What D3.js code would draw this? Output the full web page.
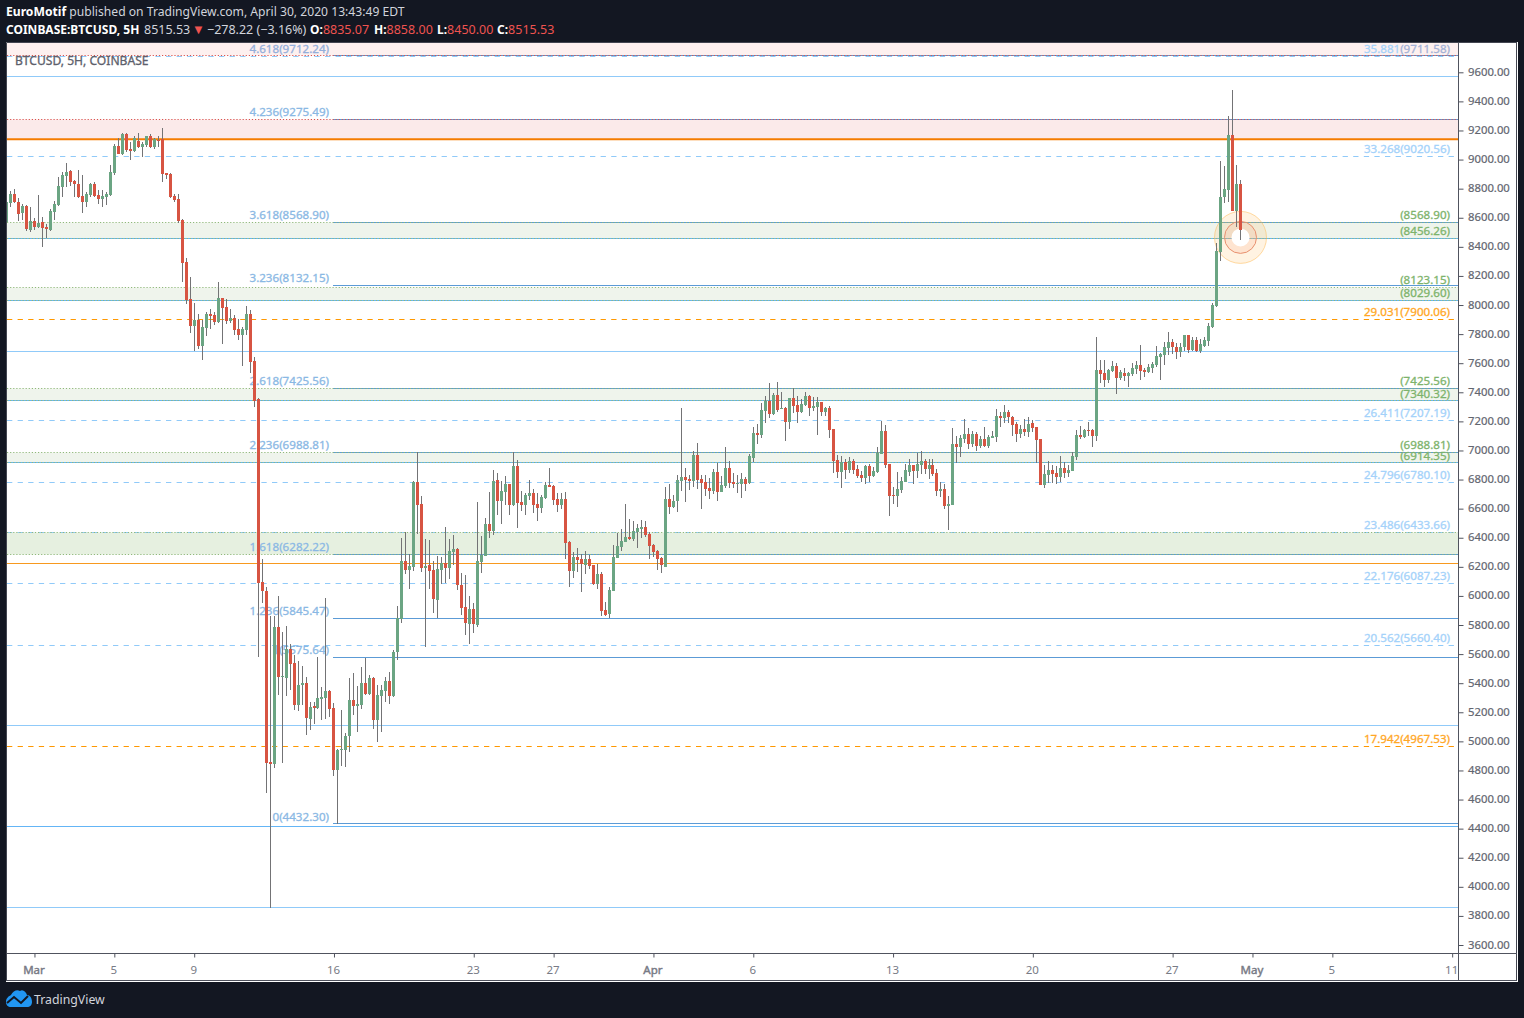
<!DOCTYPE html>
<html><head><meta charset="utf-8">
<script src="https://cdnjs.cloudflare.com/ajax/libs/d3/7.8.5/d3.min.js"></script>
<style>
html,body{margin:0;padding:0;background:#131722;overflow:hidden}
svg{display:block}
text{font-family:"Noto Sans",sans-serif}
</style></head><body>
<svg id="c" width="1524" height="1018"></svg>
<script>
// ---------- values ----------
const opens=[8569,8700,8762,8706,8631,8679,8514,8576,8535,8569,
8535,8514,8638,8686,8810,8885,8920,8851,8830,8748,
8706,8755,8830,8755,8727,8741,8755,8906,9091,9036,
9174,9071,9057,9126,9085,9098,9160,9085,9133,9140,
8906,8899,8748,8727,8583,8294,8040,7854,7896,7717,
7841,7937,7930,7882,8047,7985,7889,7909,7834,7793,
7827,7937,7614,7353,6095,6033,4858,4844,5786,5442,
5435,5634,5538,5250,5387,5401,5153,5243,5229,5291,
5298,5346,5229,4803,4940,4940,5036,5284,5243,5250,
5401,5325,5435,5146,5311,5346,5414,5311,5614,5840,
6239,6177,6198,6782,6631,6191,6212,6177,5971,6177,
6225,6191,6301,6322,6074,5923,5806,5909,5799,6232,
6274,6493,6445,6796,6652,6713,6768,6624,6892,6645,
6624,6686,6707,6631,6604,6672,6762,6755,6665,6624,
6665,6370,6170,6267,6253,6212,6253,6212,6081,6150,
5902,5875,6033,6260,6335,6370,6404,6390,6438,6459,
6473,6425,6349,6308,6260,6198,6665,6610,6652,6789,
6817,6803,6789,6968,6803,6782,6741,6720,6851,6713,
6755,6878,6782,6768,6768,6803,6775,6947,7119,7105,
7270,7339,7250,7380,7284,7291,7195,7359,7311,7263,
7311,7373,7291,7298,7332,7263,7291,7147,6933,6851,
6920,6865,6926,6871,6830,6810,6892,6823,6851,6975,
7133,6906,6693,6686,6727,6782,6851,6899,6858,6899,
6926,6871,6899,6844,6720,6734,6617,6624,7043,7023,
7078,7112,7043,7112,7030,7078,7030,7085,7092,7236,
7222,7263,7229,7181,7112,7147,7126,7188,7160,7078,
6762,6830,6865,6844,6817,6878,6844,6858,6954,7105,
7092,7140,7140,7098,7552,7531,7483,7545,7579,7497,
7531,7511,7524,7559,7586,7552,7538,7566,7586,7641,
7655,7703,7744,7710,7676,7710,7793,7690,7758,7683,
7717,7751,7847,7992,8363,8741,8789,9167,8645,8835.07];
const highs=[8755,8782,8796,8734,8693,8690,8672,8597,8755,8604,
8555,8658,8713,8878,8913,8975,8925,8858,8927,8892,
8775,8837,8844,8789,8789,8775,8961,9105,9146,9180,
9180,9119,9160,9181,9119,9160,9174,9146,9160,9215,
8910,8905,8762,8762,8590,8322,8191,8012,7937,7896,
7950,7971,7950,8157,8050,8040,7971,7930,7902,7847,
7992,7964,7641,7359,6253,6060,5861,5861,5999,5751,
5792,5669,5593,5552,5518,5442,5270,5270,5579,5373,
5985,5353,5263,4945,5215,5057,5435,5470,5380,5511,
5573,5456,5442,5387,5387,5442,5476,5627,5930,6397,
6438,6287,6789,6988,6686,6390,6383,6239,6273,6267,
6473,6390,6418,6328,6157,6143,5999,5950,6645,6411,
6535,6713,6865,6844,6789,6823,6772,6988,6933,6720,
6707,6796,6734,6707,6693,6782,6878,6762,6707,6707,
6713,6375,6301,6328,6287,6308,6280,6215,6219,6164,
5957,6060,6349,6431,6459,6631,6528,6514,6493,6521,
6514,6438,6356,6315,6267,6748,6768,6693,6830,7291,
6878,6830,6995,7050,6830,6830,6810,6871,6913,6823,
7023,6926,6844,6830,6844,6816,6975,7160,7181,7325,
7373,7463,7394,7470,7401,7298,7362,7428,7373,7353,
7401,7380,7366,7366,7336,7298,7305,7150,6968,6961,
6940,6954,6940,6899,6858,6899,6906,6885,7023,7201,
7174,6910,6748,6851,6816,6906,6940,6903,6982,6995,
6940,6940,6940,6871,6782,6768,6686,7153,7098,7105,
7215,7153,7133,7126,7098,7160,7105,7133,7284,7263,
7311,7277,7236,7195,7174,7215,7229,7208,7163,7082,
6899,6926,6899,6892,6961,6920,6899,6988,7140,7167,
7147,7195,7147,7779,7621,7621,7559,7614,7600,7552,
7566,7538,7600,7614,7724,7566,7593,7607,7717,7669,
7744,7813,7765,7738,7738,7795,7797,7779,7779,7765,
7779,7875,8012,8425,8988,8954,9298,9476,8961,8858];
const lows=[8555,8672,8699,8576,8583,8507,8500,8514,8528,8397,
8459,8507,8583,8680,8741,8810,8817,8741,8734,8631,
8672,8741,8741,8693,8672,8686,8750,8892,9036,9030,
9050,8995,9050,9078,9016,9085,9078,9071,9085,8844,
8865,8734,8706,8562,8157,8009,7806,7682,7696,7621,
7786,7834,7861,7875,7731,7868,7875,7793,7758,7579,
7793,7531,7298,5579,5950,4645,3854,4816,5318,4851,
5311,5353,5215,5208,5250,5043,5077,5119,5222,5146,
5153,5167,4762,4432,4830,4823,4927,5181,5064,5222,
5318,5318,5085,4995,5064,5270,5257,5305,5559,5813,
6150,6047,6170,6425,6164,5648,6047,5882,5847,6081,
6088,6115,6212,6040,5868,5731,5669,5744,5786,6157,
6274,6397,6418,6555,6493,6624,6555,6617,6466,6583,
6555,6658,6569,6514,6569,6665,6748,6624,6576,6597,
6253,6060,6122,6164,6026,6150,6184,6078,6047,5861,
5861,5847,6033,6260,6308,6370,6383,6377,6329,6397,
6404,6253,6267,6177,6157,6198,6562,6604,6576,6720,
6645,6727,6748,6734,6597,6686,6665,6700,6652,6713,
6741,6741,6741,6707,6672,6720,6768,6920,7043,7085,
7188,7222,7243,7263,7284,7064,7147,7256,7188,7256,
7305,7236,7270,7105,7236,7236,7085,6844,6810,6741,
6803,6844,6837,6810,6782,6768,6782,6816,6844,6975,
6878,6549,6631,6610,6707,6782,6823,6768,6810,6837,
6837,6803,6823,6686,6679,6597,6452,6624,6913,6954,
7050,7009,7023,6995,7016,7023,7016,7085,7057,7160,
7188,7188,7098,7057,7085,7098,7092,7126,6913,6761,
6741,6775,6775,6768,6782,6810,6817,6858,6933,7078,
7085,7098,7023,7064,7463,7435,7463,7538,7387,7483,
7476,7435,7511,7524,7483,7504,7531,7531,7573,7483,
7586,7655,7662,7628,7641,7683,7669,7683,7676,7669,
7710,7717,7841,7985,8301,8700,8707,8645,8535,8450];
const closes=[8707,8762,8706,8624,8679,8521,8576,8535,8562,8528,
8521,8645,8693,8817,8892,8913,8844,8830,8741,8706,
8762,8830,8748,8727,8748,8762,8913,9091,9036,9174,
9064,9057,9146,9085,9105,9160,9085,9140,9126,8899,
8892,8741,8720,8576,8287,8033,7854,7896,7717,7847,
7937,7923,7882,8047,7978,7889,7909,7827,7793,7834,
7937,7607,7339,6088,6033,4851,4844,5786,5442,5449,
5634,5531,5250,5387,5401,5160,5236,5229,5298,5304,
5346,5222,4803,4940,4947,5036,5284,5243,5257,5401,
5325,5435,5146,5318,5353,5414,5311,5614,5847,6239,
6177,6205,6782,6624,6191,6205,6170,5978,6184,6225,
6191,6308,6322,6074,5916,5813,5909,5806,6239,6280,
6493,6445,6789,6652,6720,6768,6624,6892,6638,6624,
6693,6707,6624,6604,6679,6762,6748,6658,6624,6665,
6363,6170,6267,6246,6219,6253,6205,6081,6150,5895,
5868,6040,6267,6342,6377,6404,6390,6445,6466,6473,
6418,6342,6301,6253,6212,6665,6610,6652,6796,6817,
6796,6789,6968,6796,6775,6734,6720,6851,6713,6762,
6878,6775,6768,6775,6803,6768,6961,7119,7105,7277,
7339,7250,7380,7277,7291,7195,7359,7305,7263,7318,
7373,7291,7305,7332,7263,7291,7140,6927,6851,6920,
6865,6926,6865,6823,6810,6892,6823,6858,6982,7133,
6899,6686,6686,6734,6789,6865,6899,6858,6906,6926,
6871,6899,6837,6720,6734,6617,6631,7043,7023,7085,
7112,7043,7112,7030,7078,7030,7092,7098,7236,7222,
7263,7229,7174,7112,7147,7126,7181,7153,7071,6762,
6837,6865,6837,6817,6878,6844,6865,6961,7105,7092,
7140,7133,7098,7552,7524,7483,7552,7579,7497,7538,
7511,7531,7566,7586,7545,7538,7573,7593,7648,7662,
7710,7744,7710,7676,7710,7793,7690,7758,7683,7731,
7758,7854,7998,8370,8741,8796,9167,8645,8835,8515.53];

const priceTicks=d3.range(3600,9601,200);
const timeDays=[0,4,8,15,22,26,31,36,43,50,57,61,65,71];
const timeLabels=["Mar","5","9","16","23","27","Apr","6","13","20","27","May","5","11"];

const fibLeftRatio=["4.618","4.236","3.618","3.236","2.618","2.236","1.618","1.236","1","0"];
const fibLeftPrice=[9712.24,9275.49,8568.90,8132.15,7425.56,6988.81,6282.22,5845.47,5575.64,4432.30];

const fibRightRatio=["35.881","33.268","29.031","26.411","24.796","23.486","22.176","20.562","17.942"];
const fibRightPrice=[9711.58,9020.56,7900.06,7207.19,6780.10,6433.66,6087.23,5660.40,4967.53];
const fibRightOrange=[false,false,true,false,false,false,false,false,true];

const greenTop=[8568.90,8123.15,7425.56,6988.81];
const greenBottom=[8456.26,8029.60,7340.32,6914.35];
const greenLabels=[8568.90,8456.26,8123.15,8029.60,7425.56,7340.32,6988.81,6914.35];
const strongBandTop=6433.66, strongBandBottom=6282.22;
const pinkTop=[9900,9275.49];
const pinkBottom=[9712.24,9140];

const solidLight=[9569,7683,5109,3855];
const solidBlue=[4418];
const solidOrange=[6223];
const thickOrange=9140;
const markerPrice=8465, markerIndex=309;

// ---------- geometry ----------
const W=1524,H=1018, L=7,R=1459,T=43,B=954,RR=1517,BB=981;
const svg=d3.select("#c");
const y=d3.scaleLinear().domain([3600,9600]).range([945,72.3]);
const x=d3.scaleLinear().domain([0,309]).range([6.5,1240.5]);
const dayIndex=d=>7+5*d;
const snap=v=>Math.floor(v)+.5;

svg.append("defs").append("clipPath").attr("id","plot")
  .append("rect").attr("x",L).attr("y",T).attr("width",R-L).attr("height",B-T);

svg.append("rect").attr("x",6).attr("y",42).attr("width",RR-5).attr("height",BB-41).attr("fill","#fff");
const plot=svg.append("g").attr("clip-path","url(#plot)");

// bands
const band=(a,b,c)=>plot.append("rect").attr("x",L).attr("width",R-L)
  .attr("y",snap(y(a))).attr("height",snap(y(b))-snap(y(a))).attr("fill",c);
pinkTop.forEach((t,i)=>band(t,pinkBottom[i],i?"#fbeaea":"#fdf0ef"));
greenTop.forEach((t,i)=>band(t,greenBottom[i],"#eff4ec"));
band(strongBandTop,strongBandBottom,"#e6f0e0");

const hline=(p,col,dash,x0=L,w=1)=>{
  const l=plot.append("line").attr("x1",x0).attr("x2",R)
    .attr("y1",snap(y(p))).attr("y2",snap(y(p))).attr("stroke",col).attr("stroke-width",w);
  if(dash) l.attr("stroke-dasharray",dash);
  return l;
};
const DASH="5.3,5.3", DOT="1.2,1.9";

// full-width lines of the outer fib set
solidLight.forEach(p=>hline(p,"#90caf9"));
solidBlue.forEach(p=>hline(p,"#64b5f6"));
solidOrange.forEach(p=>hline(p,"#f7991f"));
fibRightPrice.forEach((p,i)=>hline(p,fibRightOrange[i]?"#ff9800":"#90caf9",DASH));
greenBottom.forEach(p=>hline(p,"#64b5f6"));

// left fib set starts after its labels
fibLeftPrice.forEach(p=>hline(p,"#5c9bd6",null,333));
// dotted edges
greenTop.concat(greenBottom,[strongBandTop,strongBandBottom]).forEach(p=>hline(p,"#8fb87a",DOT));
[9712.24,9275.49].forEach(p=>hline(p,"#d9534f",DOT));
plot.append("line").attr("x1",L).attr("x2",R).attr("y1",y(thickOrange)).attr("y2",y(thickOrange))
  .attr("stroke","#f57c00").attr("stroke-width",2);

// labels
const lab=plot.append("g").attr("font-size",11.6).attr("stroke-width",.3);
lab.selectAll(".fl").data(fibLeftRatio).join("text").attr("class","fl")
  .attr("x",329).attr("text-anchor","end")
  .attr("y",(d,i)=>y(fibLeftPrice[i])-3.4)
  .attr("fill",(d,i)=>i?"#8ab8e4":"#93aedb").attr("stroke",(d,i)=>i?"#8ab8e4":"#93aedb")
  .text((d,i)=>`${d}(${fibLeftPrice[i].toFixed(2)})`);
lab.selectAll(".fr").data(fibRightRatio).join("text").attr("class","fr")
  .attr("x",1450).attr("text-anchor","end")
  .attr("y",(d,i)=>y(fibRightPrice[i])-3.4)
  .attr("fill",(d,i)=>fibRightOrange[i]?"#ffa726":"#a4d2fa")
  .attr("stroke",(d,i)=>fibRightOrange[i]?"#ffa726":"#a4d2fa")
  .each(function(d,i){
    const t=d3.select(this);
    t.append("tspan").text(d);
    const s=t.append("tspan").text(`(${fibRightPrice[i].toFixed(2)})`);
    if(i==0) s.attr("fill","#a3b1d6").attr("stroke","#a3b1d6");
  });
lab.selectAll(".fg").data(greenLabels).join("text").attr("class","fg")
  .attr("x",1450).attr("text-anchor","end").attr("fill","#7db36b").attr("stroke","#7db36b")
  .attr("y",d=>y(d)-3.4)
  .text(d=>`(${d.toFixed(2)})`);

// signal marker
const mx=x(markerIndex),my=y(markerPrice);
plot.append("circle").attr("cx",mx).attr("cy",my).attr("r",26)
  .attr("fill","#ffb74d").attr("fill-opacity",.16).attr("stroke","#ffb74d").attr("stroke-opacity",.5);
plot.append("circle").attr("cx",mx).attr("cy",my).attr("r",16)
  .attr("fill","#f8a88c").attr("fill-opacity",.2).attr("stroke","#e8906e");
plot.append("circle").attr("cx",mx).attr("cy",my).attr("r",9).attr("fill","#fff");

// candles
const idx=d3.range(opens.length);
const pxX=i=>Math.floor(x(i));
plot.append("g").selectAll("rect").data(idx).join("rect")
  .attr("x",pxX).attr("width",1)
  .attr("y",i=>Math.round(y(highs[i])))
  .attr("height",i=>Math.max(1,Math.round(y(lows[i]))-Math.round(y(highs[i]))))
  .attr("fill","#737375");
plot.append("g").selectAll("rect").data(idx).join("rect")
  .attr("x",i=>pxX(i)-1).attr("width",3)
  .attr("y",i=>Math.round(y(Math.max(opens[i],closes[i]))))
  .attr("height",i=>Math.max(1,Math.round(y(Math.min(opens[i],closes[i])))-Math.round(y(Math.max(opens[i],closes[i])))))
  .attr("fill",i=>closes[i]>=opens[i]?"#6ba583":"#d75442");

svg.append("text").attr("x",15).attr("y",64.5).attr("font-size",12.1)
  .attr("fill","#5d606b").attr("stroke","#5d606b").attr("stroke-width",.3).text("BTCUSD, 5H, COINBASE");

// axes
const axisY=d3.axisRight(y).tickValues(priceTicks).tickFormat(d3.format(".2f")).tickSize(5).tickPadding(4.5);
const gy=svg.append("g").attr("transform",`translate(${R-.5},0)`).call(axisY);
gy.select(".domain").remove();
gy.selectAll("line").attr("stroke","#50535e");
gy.selectAll("text").attr("fill","#62656f").attr("font-size",11.3).attr("dy",".27em")
  .attr("stroke","#62656f").attr("stroke-width",.2).attr("font-family",'"Noto Sans",sans-serif');

const tickIdx=timeDays.map(dayIndex);
const axisX=d3.axisBottom(x).tickValues(tickIdx)
  .tickFormat((d,i)=>timeLabels[i]).tickSize(4).tickPadding(8);
const gx=svg.append("g").attr("transform",`translate(0,${B-.5})`).call(axisX);
gx.select(".domain").remove();
gx.selectAll("line").attr("stroke","#50535e");
gx.selectAll("text").attr("fill","#787b86").attr("font-size",11.5).attr("dx",-1).attr("font-family",'"Noto Sans",sans-serif')
  .attr("stroke","#787b86").attr("stroke-width",(d,i)=>["Mar","Apr","May"].includes(timeLabels[i])?.45:0);

// frame
const fr=(x1,y1,x2,y2,c="#50535e")=>svg.append("line").attr("x1",x1).attr("y1",y1).attr("x2",x2).attr("y2",y2).attr("stroke",c);
fr(6.5,42.5,RR,42.5,"#434651");fr(6.5,42.5,6.5,BB,"#434651");fr(6,BB-.5,RR,BB-.5,"#50535e");fr(RR-.5,42.5,RR-.5,BB,"#434651");
fr(R-.5,43,R-.5,BB);fr(7,B-.5,RR,B-.5);

// header
const h1=svg.append("text").attr("x",6).attr("y",16).attr("font-size",12.15).attr("fill","#d1d4dc");
h1.append("tspan").attr("font-weight",700).attr("fill","#fff").text("EuroMotif");
h1.append("tspan").text(" published on TradingView.com, April 30, 2020 13:43:49 EDT");
const h2=svg.append("text").attr("x",6).attr("y",34).attr("font-size",12).attr("fill","#d1d4dc");
h2.append("tspan").attr("font-weight",700).attr("fill","#fff").text("COINBASE:BTCUSD, 5H");
h2.append("tspan").attr("x",144).attr("font-size",12.5).text("8515.53");
h2.append("tspan").attr("x",192).attr("fill","#ef5350").attr("font-size",13).text("▼");
h2.append("tspan").attr("x",207).attr("font-size",12.5).text("−278.22 (−3.16%)");
const headLabels=["O:","H:","L:","C:"], headValues=["8835.07","8858.00","8450.00","8515.53"], headX=[310,374,437,497];
headLabels.forEach((a,i)=>{
  h2.append("tspan").attr("x",headX[i]).attr("font-weight",700).attr("fill","#fff").text(a);
  h2.append("tspan").attr("fill","#ef5350").attr("font-size",12.5).text(headValues[i]);
});

// footer logo
const logo=svg.append("g").attr("transform","translate(6,990)");
logo.append("path").attr("fill","#2196f3")
  .attr("d","M0 12 C0 8 3 6 5 5 C7 1 11 -1 14 1 C17 -1 20 2 21 5 C24 5 26 8 26 12 C26 15 24 17 21 17 L5 17 C2 17 0 15 0 12 Z");
logo.append("path").attr("fill","none").attr("stroke","#131722").attr("stroke-width",2)
  .attr("d","M1 13 L8 7 L15 13 L22 6");
svg.append("text").attr("x",34).attr("y",1004).attr("font-size",12.3).attr("fill","#d1d4dc").text("TradingView");
</script></body></html>
